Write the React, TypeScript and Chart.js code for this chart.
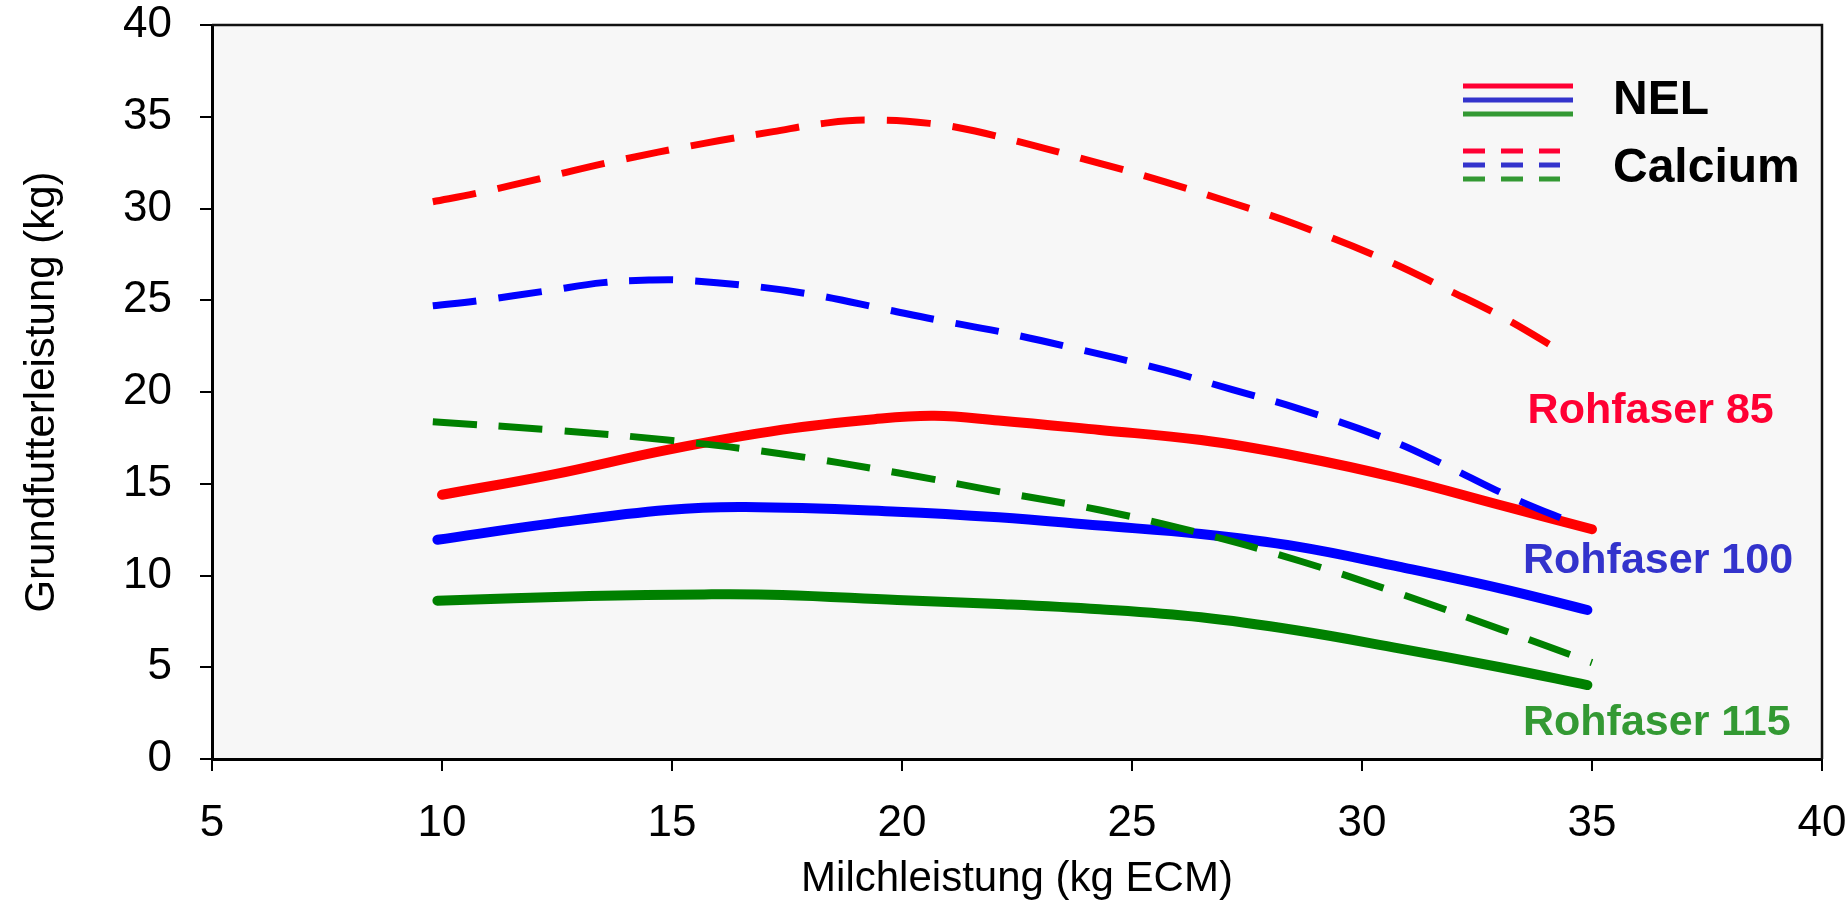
import { useEffect, useRef } from 'react';
import { Chart, registerables } from 'chart.js';

Chart.register(...registerables);

// Axis ticks
const xTicks = [5, 10, 15, 20, 25, 30, 35, 40];
const yTicks = [0, 5, 10, 15, 20, 25, 30, 35, 40];

// NEL (solid lines)
const nel85X = [10, 12.4, 14.9, 17.4, 19.4, 20.7, 22.1, 24.3, 26.5, 28.6, 30.8, 33.0, 35.0];
const nel85Y = [14.4, 15.5, 16.85, 17.95, 18.52, 18.7, 18.45, 17.93, 17.38, 16.5, 15.3, 13.84, 12.52];

const nel100X = [9.9, 12.4, 14.9, 16.6, 19.9, 22.1, 24.3, 26.5, 28.6, 30.8, 33.0, 34.9];
const nel100Y = [11.95, 12.84, 13.57, 13.73, 13.48, 13.17, 12.72, 12.26, 11.57, 10.48, 9.3, 8.12];

const nel115X = [9.9, 13.2, 15.7, 17.4, 19.9, 22.1, 24.3, 26.5, 28.6, 30.8, 33.0, 34.9];
const nel115Y = [8.63, 8.88, 8.97, 8.94, 8.66, 8.45, 8.16, 7.72, 7.0, 6.03, 5.0, 4.03];

// Calcium (dashed lines)
const ca85X = [9.8, 10.75, 12.3, 13.7, 15.7, 17.2, 18.3, 19.2, 20.6, 21.8, 24.3, 25.7, 27.1, 28.6, 30.6, 31.8, 33.1, 34.4];
const ca85Y = [30.37, 30.83, 31.73, 32.55, 33.55, 34.19, 34.64, 34.82, 34.64, 34.1, 32.46, 31.46, 30.37, 29.1, 27.1, 25.65, 24.02, 22.1];

const ca100X = [9.8, 10.8, 12.3, 13.5, 14.5, 15.2, 16.7, 18.1, 19.7, 20.7, 22.1, 23.6, 25.7, 27.2, 28.6, 30.6, 31.8, 33.3, 34.65];
const ca100Y = [24.7, 24.98, 25.52, 25.96, 26.1, 26.1, 25.78, 25.29, 24.47, 23.96, 23.3, 22.47, 21.2, 20.11, 19.11, 17.38, 16.02, 14.2, 12.8];

const ca115X = [9.8, 12.4, 14.9, 17.4, 19.9, 22.1, 24.3, 26.5, 28.65, 30.8, 33.0, 35.0];
const ca115Y = [18.38, 17.93, 17.38, 16.62, 15.6, 14.57, 13.57, 12.3, 10.79, 9.03, 7.08, 5.25];

// Series labels
const seriesLabels = ['Rohfaser 85', 'Rohfaser 100', 'Rohfaser 115'];
const labelX = [33.6, 33.5, 33.5];
const labelY = [18.3, 10.14, 1.31];
const labelColors = ['#FF0033', '#3333CC', '#339933'];

const legendTitles = ['NEL', 'Calcium'];
const lineColors = ['#FF0000', '#0000FF', '#008000'];

const FONT = '"Liberation Sans", Arial, Helvetica, sans-serif';

function pts(xs: number[], ys: number[]) {
  return xs.map((x, i) => ({ x, y: ys[i] }));
}

export default function App() {
  const ref = useRef<HTMLCanvasElement>(null);

  useEffect(() => {
    document.body.style.margin = '0';
    const canvas = ref.current!;

    const bgPlugin = {
      id: 'bgPlugin',
      beforeDraw(chart: any) {
        const { ctx, chartArea: a } = chart;
        ctx.save();
        ctx.fillStyle = '#F7F7F7';
        ctx.fillRect(a.left, a.top, a.right - a.left, a.bottom - a.top);
        ctx.restore();
      },
      afterDraw(chart: any) {
        const { ctx, chartArea: a } = chart;
        ctx.save();
        ctx.strokeStyle = '#111';
        ctx.lineWidth = 2.5;
        ctx.beginPath();
        ctx.moveTo(a.left, a.top);
        ctx.lineTo(a.right, a.top);
        ctx.lineTo(a.right, a.bottom);
        ctx.stroke();
        ctx.restore();
      },
    };

    const annotPlugin = {
      id: 'annotPlugin',
      afterDraw(chart: any) {
        const { ctx } = chart;
        const xs = chart.scales.x;
        const ys = chart.scales.y;
        ctx.save();
        // series labels
        ctx.font = `bold 43px ${FONT}`;
        ctx.textAlign = 'left';
        ctx.textBaseline = 'alphabetic';
        seriesLabels.forEach((t, i) => {
          ctx.fillStyle = labelColors[i];
          ctx.fillText(t, xs.getPixelForValue(labelX[i]), ys.getPixelForValue(labelY[i]));
        });
        // legend
        const lx0 = 1463;
        const lx1 = 1573;
        ctx.lineWidth = 5;
        ctx.lineCap = 'butt';
        labelColors.forEach((c, i) => {
          ctx.strokeStyle = c;
          ctx.setLineDash([]);
          ctx.beginPath();
          ctx.moveTo(lx0, 86 + i * 14);
          ctx.lineTo(lx1, 86 + i * 14);
          ctx.stroke();
          ctx.setLineDash([22, 16]);
          ctx.beginPath();
          ctx.moveTo(lx0, 151 + i * 14);
          ctx.lineTo(1560, 151 + i * 14);
          ctx.stroke();
        });
        ctx.setLineDash([]);
        ctx.fillStyle = '#000';
        ctx.font = `bold 48px ${FONT}`;
        ctx.fillText(legendTitles[0], 1613, 114);
        ctx.fillText(legendTitles[1], 1613, 182);
        ctx.restore();
      },
    };

    const solid = (xs: number[], ys: number[], color: string, label: string) => ({
      label,
      data: pts(xs, ys),
      borderColor: color,
      backgroundColor: color,
      borderWidth: 10,
      borderCapStyle: 'round',
      borderJoinStyle: 'round',
      pointRadius: 0,
      fill: false,
      tension: 0.4,
    });
    const dashed = (xs: number[], ys: number[], color: string, label: string) => ({
      label,
      data: pts(xs, ys),
      borderColor: color,
      backgroundColor: color,
      borderWidth: 7,
      borderDash: [44, 22],
      borderCapStyle: 'butt',
      pointRadius: 0,
      fill: false,
      tension: 0.4,
    });

    const zeroPad = (s: any) => {
      s.paddingTop = 0;
      s.paddingBottom = 0;
      s.paddingLeft = 0;
      s.paddingRight = 0;
    };

    const chart = new Chart(canvas, {
      type: 'line',
      data: {
        datasets: [
          dashed(ca85X, ca85Y, lineColors[0], 'Calcium Rohfaser 85'),
          dashed(ca100X, ca100Y, lineColors[1], 'Calcium Rohfaser 100'),
          dashed(ca115X, ca115Y, lineColors[2], 'Calcium Rohfaser 115'),
          solid(nel85X, nel85Y, lineColors[0], 'NEL Rohfaser 85'),
          solid(nel100X, nel100Y, lineColors[1], 'NEL Rohfaser 100'),
          solid(nel115X, nel115Y, lineColors[2], 'NEL Rohfaser 115'),
        ] as any,
      },
      options: {
        responsive: false,
        animation: false,
        layout: { padding: { top: 25, right: 25, left: 0, bottom: 0 } },
        plugins: {
          legend: { display: false },
          tooltip: { enabled: false },
        },
        scales: {
          x: {
            type: 'linear',
            min: 5,
            max: 40,
            afterBuildTicks: (s: any) => {
              s.ticks = xTicks.map((v) => ({ value: v }));
            },
            afterFit: (s: any) => {
              s.height = 148;
              zeroPad(s);
            },
            ticks: {
              color: '#000',
              font: { family: FONT, size: 44 },
              padding: 26,
              maxRotation: 0,
              autoSkip: false,
            },
            grid: {
              display: true,
              drawOnChartArea: false,
              drawTicks: true,
              tickLength: 12,
              color: '#000',
              lineWidth: 2,
            },
            border: { display: true, color: '#000', width: 3 },
            title: {
              display: true,
              text: 'Milchleistung (kg ECM)',
              color: '#000',
              font: { family: FONT, size: 42 },
              padding: { top: 0, bottom: 2 },
            },
          },
          y: {
            type: 'linear',
            min: 0,
            max: 40,
            afterBuildTicks: (s: any) => {
              s.ticks = yTicks.map((v) => ({ value: v }));
            },
            afterFit: (s: any) => {
              s.width = 212;
              zeroPad(s);
            },
            ticks: {
              color: '#000',
              font: { family: FONT, size: 44 },
              padding: 28,
              autoSkip: false,
            },
            grid: {
              display: true,
              drawOnChartArea: false,
              drawTicks: true,
              tickLength: 12,
              color: '#000',
              lineWidth: 2,
            },
            border: { display: true, color: '#000', width: 3 },
            title: {
              display: true,
              text: 'Grundfutterleistung (kg)',
              color: '#000',
              font: { family: FONT, size: 42 },
              padding: { top: 17, bottom: 0 },
            },
          },
        },
      } as any,
      plugins: [bgPlugin, annotPlugin],
    });

    return () => chart.destroy();
  }, []);

  return <canvas ref={ref} width={1847} height={907} style={{ display: 'block' }} />;
}
